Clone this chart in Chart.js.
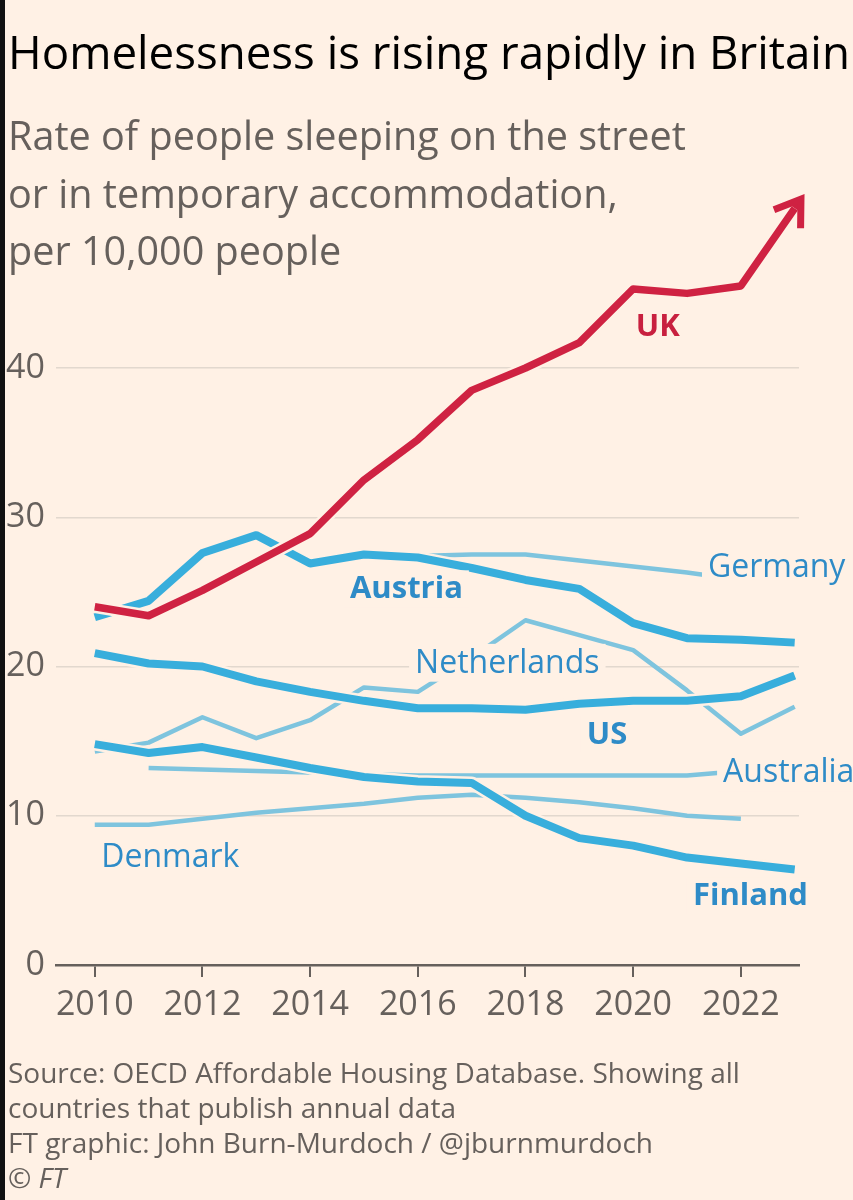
<!DOCTYPE html>
<html>
<head>
<meta charset="utf-8">
<script src="https://cdn.jsdelivr.net/npm/chart.js@4.4.1/dist/chart.umd.min.js"></script>
<style>
html,body{margin:0;padding:0;background:#FFF1E5;}
body{width:853px;height:1200px;position:relative;overflow:hidden;font-family:'Open Sans',sans-serif;}
#edge{position:absolute;left:0;top:0;width:5px;height:1200px;background:#111;z-index:5;}
#c{position:absolute;left:0;top:0;}
.t{position:absolute;left:8px;top:0;white-space:nowrap;line-height:1;margin:0;}
#title{color:#000;}
.sub,.foot{color:#66605c;}
.bl{display:inline-block;width:0;height:0;vertical-align:baseline;}
</style>
</head>
<body>
<div id="edge"></div>
<canvas id="c" width="853" height="1200"></canvas>
<div class="t" id="title">Homelessness is rising rapidly in Britain<span class="bl"></span></div>
<div class="t sub" id="s1">Rate of people sleeping on the street<span class="bl"></span></div>
<div class="t sub" id="s2">or in temporary accommodation,<span class="bl"></span></div>
<div class="t sub" id="s3">per 10,000 people<span class="bl"></span></div>
<div class="t foot" id="f1">Source: OECD Affordable Housing Database. Showing all<span class="bl"></span></div>
<div class="t foot" id="f2">countries that publish annual data<span class="bl"></span></div>
<div class="t foot" id="f3">FT graphic: John Burn-Murdoch / @jburnmurdoch<span class="bl"></span></div>
<div class="t foot" id="f4">© <i>FT</i><span class="bl"></span></div>
<script>
// ---------- DATA ----------
const years = [2010, 2011, 2012, 2013, 2014, 2015, 2016, 2017, 2018, 2019, 2020, 2021, 2022, 2023];
const xTickValues = [2010, 2012, 2014, 2016, 2018, 2020, 2022];
const yTickValues = [0, 10, 20, 30, 40];

const ukValues          = [24.0, 23.4, 25.1, 27.0, 28.9, 32.5, 35.2, 38.5, 40.0, 41.7, 45.3, 45.0, 45.5, 50.7];
const austriaValues     = [23.3, 24.4, 27.6, 28.8, 26.9, 27.5, 27.3, 26.6, 25.8, 25.2, 22.9, 21.9, 21.8, 21.6];
const germanyValues     = [null, null, null, null, null, 27.4, 27.4, 27.5, 27.5, 27.1, 26.7, 26.3, 25.8, null];
const netherlandsValues = [14.3, 14.9, 16.6, 15.2, 16.4, 18.6, 18.3, 20.6, 23.1, 22.1, 21.1, 18.4, 15.5, 17.3];
const usValues          = [20.9, 20.2, 20.0, 19.0, 18.3, 17.7, 17.2, 17.2, 17.1, 17.5, 17.7, 17.7, 18.0, 19.4];
const finlandValues     = [14.8, 14.2, 14.6, 13.9, 13.2, 12.6, 12.3, 12.2, 10.0, 8.5, 8.0, 7.2, 6.8, 6.4];
const australiaValues   = [null, 13.2, 13.1, 13.0, 12.9, 12.8, 12.7, 12.7, 12.7, 12.7, 12.7, 12.7, 13.0, null];
const denmarkValues     = [9.4, 9.4, 9.8, 10.2, 10.5, 10.8, 11.2, 11.4, 11.2, 10.9, 10.5, 10.0, 9.8, null];

// label anchors (year, value at label centre)
const seriesLabels = [
  {text: 'UK',          x: 2020.05, y: 42.9,  bold: true,  color: '#c8203f'},
  {text: 'Austria',     x: 2014.74, y: 25.3,  bold: true,  color: '#2e8bc7'},
  {text: 'Germany',     x: 2021.39, y: 26.75, bold: false, color: '#2e8bc7'},
  {text: 'Netherlands', x: 2015.95, y: 20.35, bold: false, color: '#2e8bc7'},
  {text: 'US',          x: 2019.14, y: 15.55, bold: true,  color: '#2e8bc7'},
  {text: 'Australia',   x: 2021.67, y: 13.0,  bold: false, color: '#2e8bc7'},
  {text: 'Denmark',     x: 2010.12, y: 7.35,  bold: false, color: '#2e8bc7'},
  {text: 'Finland',     x: 2021.11, y: 4.75,  bold: true,  color: '#2e8bc7'}
];

// ---------- STYLES ----------
const BG = '#FFF1E5';
const RED = '#cf2242';
const THICK = '#38aedc';
const THIN = '#7ec4de';
const GREY = '#66605c';
const GRID = '#e2d8ce';

function series(values, color, width, order, halo) {
  return {
    data: years.map((y, i) => ({x: y, y: values[i]})),
    borderColor: color, borderWidth: width, pointRadius: 0, pointHoverRadius: 0,
    tension: 0, fill: false, order: order, spanGaps: false,
    borderJoinStyle: 'round', borderCapStyle: 'butt', halo: halo
  };
}

const datasets = [
  Object.assign(series(ukValues, RED, 7.5, 0, true), {label: 'UK', isUK: true}),
  Object.assign(series(austriaValues, THICK, 8, 1, true), {label: 'Austria'}),
  Object.assign(series(usValues, THICK, 8, 1, true), {label: 'US'}),
  Object.assign(series(finlandValues, THICK, 8, 1, true), {label: 'Finland'}),
  Object.assign(series(germanyValues, THIN, 4.5, 2, false), {label: 'Germany'}),
  Object.assign(series(netherlandsValues, THIN, 4.5, 2, false), {label: 'Netherlands'}),
  Object.assign(series(australiaValues, THIN, 4.5, 2, false), {label: 'Australia'}),
  Object.assign(series(denmarkValues, THIN, 4.5, 2, false), {label: 'Denmark'})
];

const haloPlugin = {
  id: 'halo',
  beforeDatasetDraw(chart, args) {
    const ds = chart.data.datasets[args.index];
    if (!ds.halo) return;
    const pts = args.meta.data;
    const ctx = chart.ctx;
    ctx.save();
    ctx.beginPath();
    let started = false;
    pts.forEach((p, i) => {
      if (ds.data[i].y === null || p.skip) { started = false; return; }
      if (!started) { ctx.moveTo(p.x, p.y); started = true; } else ctx.lineTo(p.x, p.y);
    });
    ctx.strokeStyle = BG;
    ctx.lineWidth = ds.borderWidth + 5;
    ctx.lineJoin = 'round';
    ctx.stroke();
    ctx.restore();
  }
};

const arrowPlugin = {
  id: 'arrow',
  afterDatasetsDraw(chart) {
    const idx = chart.data.datasets.findIndex(d => d.isUK);
    const pts = chart.getDatasetMeta(idx).data;
    const p1 = pts[pts.length - 1], p0 = pts[pts.length - 2];
    let dx = p1.x - p0.x, dy = p1.y - p0.y;
    const len = Math.hypot(dx, dy); dx /= len; dy /= len;
    const tip = {x: p1.x + dx * 11, y: p1.y + dy * 11};
    const ang = Math.atan2(-dy, -dx), spread = 34 * Math.PI / 180, wl = 29;
    const ctx = chart.ctx;
    ctx.save();
    ctx.strokeStyle = RED; ctx.lineWidth = 7; ctx.lineCap = 'butt'; ctx.lineJoin = 'miter';
    ctx.beginPath(); ctx.moveTo(p1.x, p1.y); ctx.lineTo(tip.x - dx * 3, tip.y - dy * 3); ctx.stroke();
    ctx.beginPath();
    ctx.moveTo(tip.x + Math.cos(ang + spread) * wl, tip.y + Math.sin(ang + spread) * wl);
    ctx.lineTo(tip.x, tip.y);
    ctx.lineTo(tip.x + Math.cos(ang - spread) * wl, tip.y + Math.sin(ang - spread) * wl);
    ctx.stroke();
    ctx.restore();
  }
};

const labelPlugin = {
  id: 'labels',
  afterDatasetsDraw(chart) {
    const ctx = chart.ctx, xs = chart.scales.x, ys = chart.scales.y;
    ctx.save();
    seriesLabels.forEach(l => {
      const fs = l.bold ? 31 : 32;
      ctx.font = (l.bold ? '700 ' : '400 ') + fs + 'px "Open Sans"';
      const w = ctx.measureText(l.text).width;
      const x = xs.getPixelForValue(l.x);
      const cy = ys.getPixelForValue(l.y);
      const cap = 0.714 * fs;
      const base = cy + cap / 2;
      ctx.fillStyle = BG;
      ctx.fillRect(x - 6, base - cap - 6, w + 12, cap + 6 + 9);
      ctx.fillStyle = l.color;
      ctx.textAlign = 'left';
      ctx.textBaseline = 'alphabetic';
      ctx.fillText(l.text, x, base);
    });
    ctx.restore();
  }
};

const Y_MAX = 52;
new Chart(document.getElementById('c'), {
  type: 'line',
  data: {datasets: datasets},
  options: {
    responsive: false,
    animation: false,
    devicePixelRatio: 1,
    layout: {padding: {left: 0, right: 54, top: 965 - (965 - 368) / 40 * Y_MAX, bottom: 175}},
    plugins: {legend: {display: false}, tooltip: {enabled: false}, title: {display: false}},
    scales: {
      x: {
        type: 'linear', min: 2009.28, max: 2023.08,
        afterBuildTicks(axis) { axis.ticks = xTickValues.map(v => ({value: v})); },
        afterFit(scale) { scale.height = 60; },
        ticks: {
          callback: v => String(v), color: GREY, padding: 8, maxRotation: 0, autoSkip: false,
          font: {family: 'Open Sans', size: 34}
        },
        grid: {drawOnChartArea: false, drawTicks: true, tickLength: 12, color: GREY, lineWidth: 2},
        border: {display: true, color: GREY, width: 2.5}
      },
      y: {
        type: 'linear', min: 0, max: Y_MAX,
        afterBuildTicks(axis) { axis.ticks = yTickValues.map(v => ({value: v})); },
        afterFit(scale) { scale.width = 56; },
        ticks: {
          callback: v => String(v), color: GREY, padding: 11,
          font: {family: 'Open Sans', size: 34}
        },
        grid: {
          drawTicks: false, lineWidth: 1.5,
          color: c => (c.tick && c.tick.value === 0) ? 'rgba(0,0,0,0)' : GRID
        },
        border: {display: false}
      }
    }
  },
  plugins: [haloPlugin, arrowPlugin, labelPlugin]
});

// ---------- TEXT LAYOUT ----------
function sizeFor(el, target) {
  el.style.fontSize = '100px';
  const w = el.getBoundingClientRect().width;
  return 100 * target / w;
}
function place(el, size, baseline) {
  el.style.fontSize = size + 'px';
  el.style.top = '0px';
  const b = el.querySelector('.bl').getBoundingClientRect().top;
  el.style.top = (baseline - b) + 'px';
}
function layoutText() {
  const t = document.getElementById('title');
  place(t, sizeFor(t, 842), 69);
  const s1 = document.getElementById('s1');
  const ss = sizeFor(s1, 678);
  place(s1, ss, 150);
  place(document.getElementById('s2'), ss, 208);
  place(document.getElementById('s3'), ss, 265);
  const f1 = document.getElementById('f1');
  const fs = sizeFor(f1, 732);
  place(f1, fs, 1083);
  place(document.getElementById('f2'), fs, 1118);
  place(document.getElementById('f3'), fs, 1153);
  place(document.getElementById('f4'), fs, 1188);
}
layoutText();
if (document.fonts && document.fonts.ready) document.fonts.ready.then(layoutText);
</script>
</body>
</html>
